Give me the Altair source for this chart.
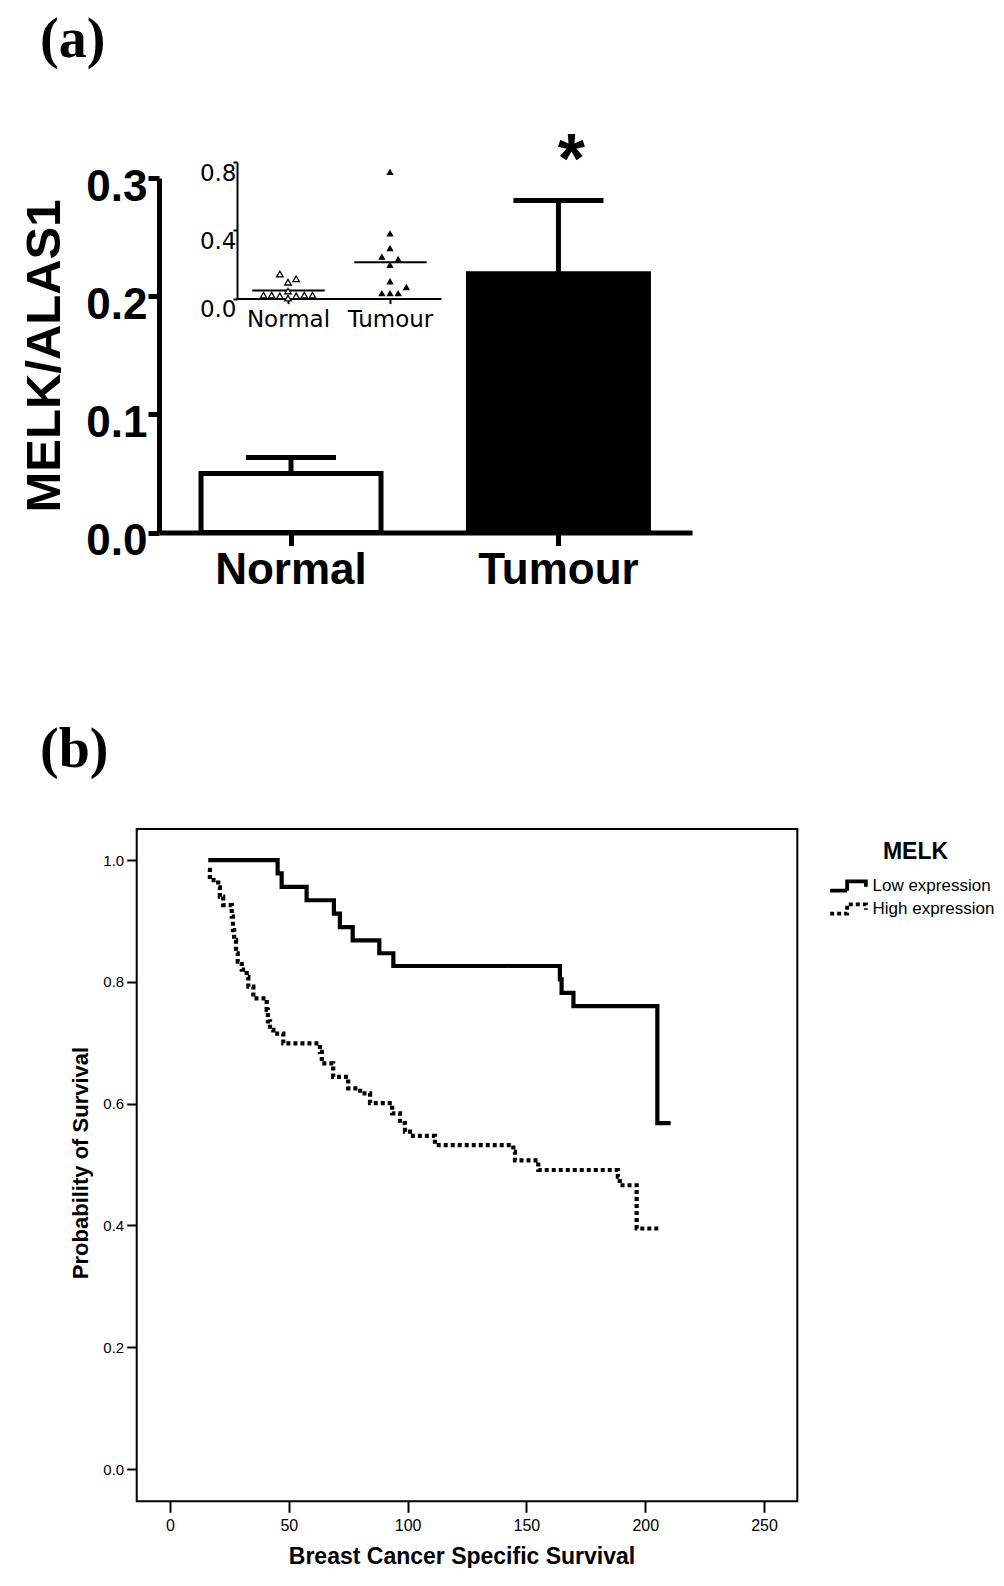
import altair as alt
import pandas as pd

# ---------------- data ----------------
groups = ["Normal", "Tumour"]
bar_mean = [0.050, 0.219]
bar_sem = [0.0135, 0.062]
significance = ["", "*"]

# inset dot plot (value, slot in the swarm)
normal_vals = [0.144, 0.096, 0.116, 0.020, 0.020, 0.016, 0.044, 0.016, 0.020, 0.020, 0.003]
normal_slot = [-1, 0, 1, -3, -2, -1, 0, 1, 2, 3, 0]
tumour_vals = [0.740, 0.380, 0.294, 0.244, 0.230, 0.196, 0.100, 0.030, 0.030, 0.030, 0.066]
tumour_slot = [0, 0, 0, -1, 1, 0, 0, -1, 0, 1, 2]
inset_y_ticks = [0.0, 0.4, 0.8]

# Kaplan-Meier curves
low_t = [16.1, 45.3, 47.0, 57.5, 69.0, 71.5, 76.9, 88.1, 94.0, 164.1, 164.8, 169.8, 205.1, 210.7]
low_s = [1.000, 0.978, 0.956, 0.934, 0.912, 0.890, 0.868, 0.847, 0.826, 0.804, 0.782, 0.760, 0.568, 0.568]
high_t = [16.0, 16.8, 20.3, 21.0, 22.4, 26.0, 26.5, 27.0, 27.8, 28.5, 30.2, 32.3, 33.0, 35.1, 40.7,
          41.2, 42.1, 43.5, 47.7, 63.1, 63.9, 68.7, 75.0, 80.0, 84.2, 93.5, 96.8, 98.9, 101.0,
          111.5, 144.5, 145.2, 155.0, 188.5, 189.3, 196.4, 205.5]
high_s = [0.984, 0.967, 0.955, 0.940, 0.926, 0.907, 0.885, 0.869, 0.847, 0.833, 0.820, 0.808, 0.792,
          0.773, 0.754, 0.735, 0.721, 0.715, 0.699, 0.685, 0.666, 0.644, 0.625, 0.617, 0.601, 0.584,
          0.568, 0.554, 0.547, 0.532, 0.521, 0.507, 0.491, 0.480, 0.466, 0.395, 0.395]
series = ["Low expression", "High expression"]
km_x_ticks = [0, 50, 100, 150, 200, 250]
km_y_ticks = [0.0, 0.2, 0.4, 0.6, 0.8, 1.0]

# ---------------- layout helpers ----------------
W, H = 988, 1560
def px(x):
    return x - 8
def py(y):
    return y - 8

SANS = "Liberation Sans"
SERIF = "Liberation Serif"
INSET_FONT = "DejaVu Sans"

# ---------------- panel (a) main bars ----------------
bars_df = pd.DataFrame({"group": groups, "mean": bar_mean, "sem": bar_sem, "sig": significance})

main_x = alt.Scale(type="band", domain=groups, range=[px(159), px(692)],
                   paddingInner=0.327, paddingOuter=0.16, align=0.491)
main_y = alt.Scale(domain=[0, 0.3], range=[py(532.5), py(178)], nice=False)

bars = alt.Chart(bars_df).mark_bar(stroke="black", strokeWidth=5).encode(
    x=alt.X("group:N", scale=main_x, sort=groups,
            axis=alt.Axis(orient="bottom", offset=py(532.5) - H, title=None, labelAngle=0,
                          labelFont=SANS, labelFontSize=44, labelFontWeight="bold",
                          labelColor="black", labelPadding=3, tickSize=13, tickWidth=5,
                          tickColor="black", domainWidth=5, domainColor="black", grid=False)),
    y=alt.Y("mean:Q", scale=main_y,
            axis=alt.Axis(orient="left", offset=-px(159), title=None, values=[0, 0.1, 0.2, 0.3],
                          format=".1f", labelFont=SANS, labelFontSize=44, labelFontWeight="bold",
                          labelColor="black", labelPadding=1, labelOffset=9, tickSize=11,
                          tickWidth=5, tickColor="black", domainWidth=5, domainColor="black",
                          grid=False, labelFlush=False, labelOverlap=False)),
    fill=alt.condition(alt.datum.group == groups[0], alt.value("white"), alt.value("black")),
)

err_base = alt.Chart(bars_df).transform_calculate(top="datum.mean + datum.sem")
err_rule = err_base.mark_rule(strokeWidth=5, color="black").encode(
    x=alt.X("group:N", scale=main_x, axis=None),
    y=alt.Y("mean:Q", scale=main_y, axis=None),
    y2="top:Q",
)
err_cap = err_base.mark_tick(thickness=5, size=90, color="black", opacity=1).encode(
    x=alt.X("group:N", scale=main_x, axis=None),
    y=alt.Y("top:Q", scale=main_y, axis=None),
)
star = err_base.mark_text(font=SANS, fontSize=70, fontWeight="bold", dx=13, dy=-17,
                          baseline="alphabetic", color="black").encode(
    x=alt.X("group:N", scale=main_x, axis=None),
    y=alt.Y("top:Q", scale=main_y, axis=None),
    text="sig:N",
)

# ---------------- inset ----------------
inset_df = pd.concat([
    pd.DataFrame({"gi": 1, "group": groups[0], "value": normal_vals, "slot": normal_slot}),
    pd.DataFrame({"gi": 2, "group": groups[1], "value": tumour_vals, "slot": tumour_slot}),
], ignore_index=True)

inset_x = alt.Scale(domain=[0.5, 2.5], range=[px(237), px(441)], nice=False, zero=False)
inset_y = alt.Scale(domain=[0, 0.8], range=[py(298.6), py(162)], nice=False)

label_expr = f"['{groups[0]}','{groups[1]}'][datum.value - 1]"

inset_pts = alt.Chart(inset_df).transform_calculate(
    xp="datum.gi + datum.slot * 0.08"
).mark_point(shape="triangle-up", filled=True, stroke="black", strokeWidth=1.3, opacity=1).encode(
    x=alt.X("xp:Q", scale=inset_x,
            axis=alt.Axis(orient="bottom", offset=py(298.6) - H, title=None, values=[1, 2],
                          labelExpr=label_expr, labelFont=INSET_FONT, labelFontSize=23,
                          labelColor="black", labelPadding=5, tickSize=5, tickWidth=2,
                          tickColor="black", domainWidth=2, domainColor="black", grid=False,
                          labelFlush=False, labelAngle=0)),
    y=alt.Y("value:Q", scale=inset_y,
            axis=alt.Axis(orient="left", offset=-px(237), title=None, values=inset_y_ticks,
                          format=".1f", labelFont=INSET_FONT, labelFontSize=23,
                          labelColor="black", labelBaseline="top", labelPadding=-3,
                          tickSize=4, tickWidth=2, tickColor="black", domainWidth=2,
                          domainColor="black", grid=False, labelFlush=False,
                          labelOverlap=False)),
    fill=alt.condition(alt.datum.gi == 1, alt.value("white"), alt.value("black")),
    size=alt.condition(alt.datum.gi == 1, alt.value(42), alt.value(26)),
)

inset_mean = alt.Chart(inset_df).transform_aggregate(
    m="mean(value)", groupby=["gi"]
).transform_calculate(
    x1="datum.gi - 0.35", x2="datum.gi + 0.36"
).mark_rule(strokeWidth=2, color="black").encode(
    x=alt.X("x1:Q", scale=inset_x, axis=None),
    x2="x2:Q",
    y=alt.Y("m:Q", scale=inset_y, axis=None),
)

# ---------------- panel (b) Kaplan-Meier ----------------
km_df = pd.concat([
    pd.DataFrame({"group": series[0], "t": low_t, "s": low_s}),
    pd.DataFrame({"group": series[1], "t": high_t, "s": high_s}),
], ignore_index=True)

km_xdom = [-14, 264]
km_ydom = [-0.053, 1.051]
km_x = alt.Scale(domain=km_xdom, range=[px(136.7), px(797.3)], nice=False, zero=False)
km_y = alt.Scale(domain=km_ydom, range=[py(1501.3), py(829)], nice=False, zero=False)

frame_df = pd.DataFrame({"x1": [km_xdom[0]], "x2": [km_xdom[1]], "y1": [km_ydom[0]], "y2": [km_ydom[1]]})
frame = alt.Chart(frame_df).mark_rect(fill="transparent", stroke="black", strokeWidth=2).encode(
    x=alt.X("x1:Q", scale=km_x, axis=None), x2="x2:Q",
    y=alt.Y("y1:Q", scale=km_y, axis=None), y2="y2:Q",
)

km_lines = alt.Chart(km_df).mark_line(interpolate="step-after", color="black", strokeWidth=4.2,
                                      strokeCap="butt").encode(
    x=alt.X("t:Q", scale=km_x,
            axis=alt.Axis(orient="bottom", offset=py(1501.3) - H, title=None, values=km_x_ticks,
                          labelFont="Liberation Sans Narrow, Liberation Sans", labelFontSize=16,
                          labelColor="black", labelPadding=5, tickSize=11, tickWidth=2,
                          tickColor="black", domain=False, grid=False, labelFlush=False)),
    y=alt.Y("s:Q", scale=km_y,
            axis=alt.Axis(orient="left", offset=-px(136.7), title=None, values=km_y_ticks,
                          format=".1f", labelFont=SANS, labelFontSize=15, labelColor="black",
                          labelPadding=3, tickSize=10, tickWidth=2, tickColor="black",
                          domain=False, grid=False, labelFlush=False, labelOverlap=False)),
    strokeDash=alt.StrokeDash(
        "group:N",
        scale=alt.Scale(domain=series, range=[[1, 0], [4, 3]]),
        legend=alt.Legend(title="MELK", orient="none", legendX=px(837.5), legendY=py(841),
                          padding=0, symbolType="M-2.1,0.55H-0.1V-0.55H2.1V0.1", symbolSize=289,
                          symbolStrokeWidth=3.8, symbolStrokeColor="black",
                          symbolFillColor="transparent", labelFont=SANS, labelFontSize=17,
                          labelColor="black", labelOffset=14, titleFont=SANS,
                          titleFontSize=23, titleFontWeight="bold", titleColor="black",
                          titleAnchor="middle", titlePadding=11.5, rowPadding=-4),
    ),
    order=alt.Order("t:Q"),
)

# ---------------- text labels ----------------
def label(text, x, y, **kw):
    return alt.Chart(pd.DataFrame({"txt": [text]})).mark_text(color="black", **kw).encode(
        text="txt:N", x=alt.value(x), y=alt.value(y))

lab_a = label("(a)", px(40), py(57), font=SERIF, fontSize=56, fontWeight="bold",
              align="left", baseline="alphabetic")
lab_b = label("(b)", px(40), py(767), font=SERIF, fontSize=56, fontWeight="bold",
              align="left", baseline="alphabetic")
ytitle_a = label("MELK/ALAS1", px(45), py(356), font=SANS, fontSize=49, fontWeight="bold",
                 angle=270, align="center", baseline="middle")
ytitle_b = label("Probability of Survival", px(81), py(1163), font=SANS, fontSize=22,
                 fontWeight="bold", angle=270, align="center", baseline="middle")
xtitle_b = label("Breast Cancer Specific Survival", px(462), py(1564), font=SANS, fontSize=23,
                 fontWeight="bold", align="center", baseline="alphabetic")

chart = alt.layer(
    bars, err_rule, err_cap, star,
    inset_mean, inset_pts,
    frame, km_lines,
    lab_a, lab_b, ytitle_a, ytitle_b, xtitle_b,
).resolve_scale(
    x="independent", y="independent", strokeDash="independent"
).resolve_axis(
    x="independent", y="independent"
).properties(
    width=W, height=H, padding=0,
    autosize=alt.AutoSizeParams(type="none"),
    background="white",
).configure_view(stroke="transparent")

chart.save("out.html", embed_options={"renderer": "svg", "actions": False})
